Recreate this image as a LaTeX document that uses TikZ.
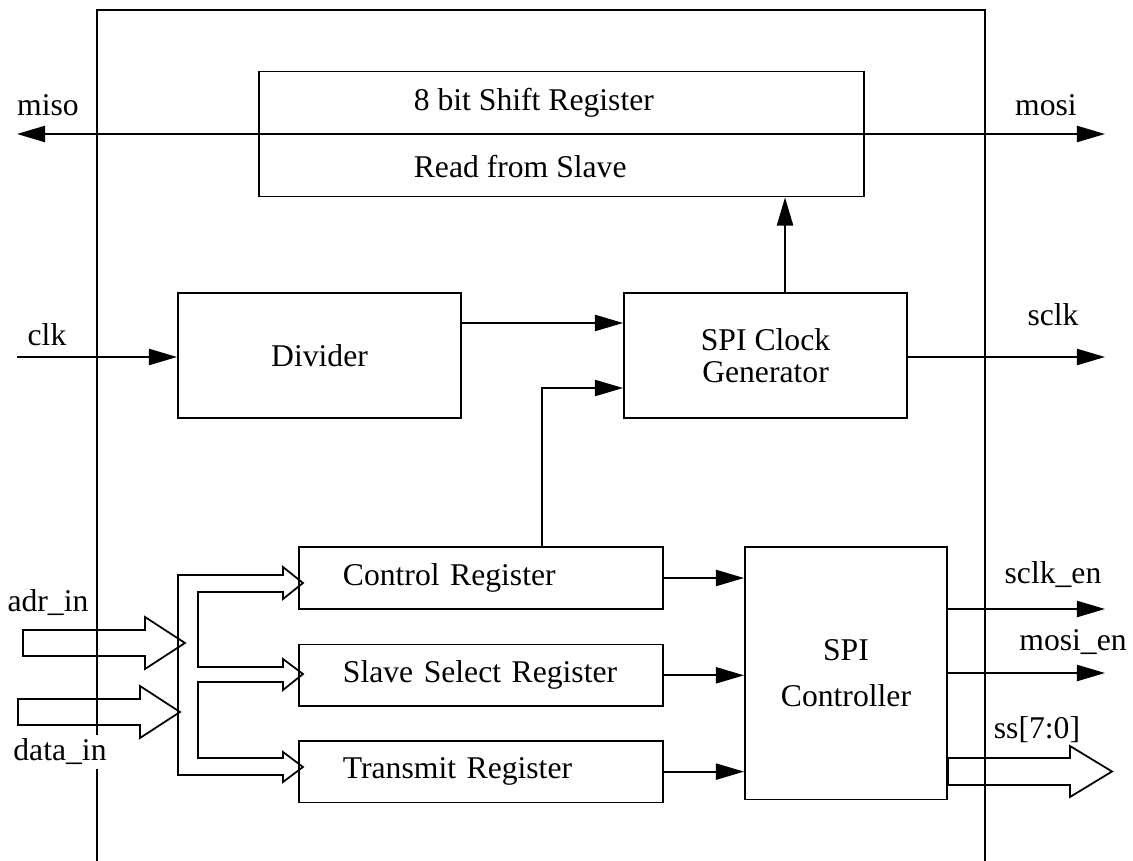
\documentclass[tikz,border=0pt]{standalone}
\usepackage{fontspec}
\setmainfont{Liberation Serif}
\usetikzlibrary{arrows.meta, positioning}
\tikzstyle{block} = [draw, rectangle, inner sep=0pt]
\tikzstyle{reg} = [block, minimum width=3.64cm, minimum height=0.615cm, text width=2.76cm, inner xsep=0.44cm, align=left]
\tikzstyle{port} = [coordinate]
\tikzstyle{bus} = [draw, line join=miter]

\begin{document}
\begin{tikzpicture}[x=0.01cm, y=-0.01cm, line width=0.5pt, >={Triangle[length=8pt,width=4.6pt]}, font=\fontsize{9}{11}\selectfont]
\useasboundingbox (0,0) rectangle (1133,861);

% frame of the core
\draw (97,861) -- (97,10) -- (985,10) -- (985,861);

\node [block, minimum width=6.05cm, minimum height=1.25cm] (shift) at (561.5,134) {};
\node [anchor=west, inner sep=0pt] (shifttxt) at (413,103) {8 bit Shift Register};
\node [anchor=west, inner sep=0pt] (readtxt) at (413,167) {Read from Slave};

\node [block, minimum width=2.83cm, minimum height=1.25cm] (divider) at (319.5,355.5) {Divider};
\node [block, minimum width=2.83cm, minimum height=1.25cm, right=1.61cm of divider, align=center] (spiclk) {SPI Clock\\[-2pt]Generator};

\node [reg] (ctrl) at (481,578) {Control Register};
\node [reg, below=0.34cm of ctrl] (slave) {Slave Select Register};
\node [reg, below=0.33cm of slave] (trans) {Transmit Register};
\node [block, minimum width=2.02cm, minimum height=2.52cm, align=center, right=0.8cm of ctrl.north east, anchor=north west] (spictl) {SPI\\[2pt]Controller};

\node [port] (misoend) at (17,134) {};
\node [port] (mosiend) at (1105,134) {};
\node [port] (clkin) at (17,357) {};
\node [port] (sclkout) at (1105,357) {};
\node [port] (sclkenout) at (1105,609) {};
\node [port] (mosienout) at (1105,673) {};

\draw [<->] (misoend) -- (mosiend);
\draw [->] (clkin) -- (clkin -| divider.west);
\draw [->] ([yshift=3.25mm]divider.east) -- ([yshift=3.25mm]spiclk.west);
\draw [->] ([xshift=1.95mm]spiclk.north) -- ([xshift=1.95mm]spiclk.north |- shift.south);
\draw [->] ([xshift=6.1mm]ctrl.north) |- ([yshift=-3.25mm]spiclk.west);
\draw [->] (sclkout -| spiclk.east) -- (sclkout);
\draw [->] (ctrl.east) -- (ctrl.east -| spictl.west);
\draw [->] (slave.east) -- (slave.east -| spictl.west);
\draw [->] (trans.east) -- (trans.east -| spictl.west);
\draw [->] (sclkenout -| spictl.east) -- (sclkenout);
\draw [->] (mosienout -| spictl.east) -- (mosienout);

% bus inputs
\draw [bus] (23,630) -- (145,630) -- (145,617) -- (185,643) -- (145,669) -- (145,656) -- (23,656) -- cycle;
\draw [bus] (18,699) -- (140,699) -- (140,686) -- (180,712) -- (140,738) -- (140,725) -- (18,725) -- cycle;
\draw [bus] (178,575) -- (283,575) -- (283,567) -- (303,583) -- (283,599) -- (283,592) -- (198,592)
  -- (198,667) -- (283,667) -- (283,659) -- (303,674) -- (283,690) -- (283,682) -- (198,682)
  -- (198,758) -- (283,758) -- (283,752) -- (303,767) -- (283,782) -- (283,775) -- (178,775) -- cycle;
% bus output
\draw [bus] (948,758) -- (1070,758) -- (1070,746) -- (1112,771.5) -- (1070,797) -- (1070,785) -- (948,785) -- cycle;

\node (miso) at (48,105) {miso};
\node (mosi) at (1046,105) {mosi};
\node (clk) at (47,335) {clk};
\node (sclk) at (1053,315) {sclk};
\node (sclken) at (1053,575) {sclk\_en};
\node (mosien) at (1073,642) {mosi\_en};
\node (ss) at (1037,730) {ss[7:0]};
\node (adrin) at (48,603) {adr\_in};
\node [fill=white, inner sep=1pt] (datain) at (60,752) {data\_in};
\end{tikzpicture}
\end{document}
